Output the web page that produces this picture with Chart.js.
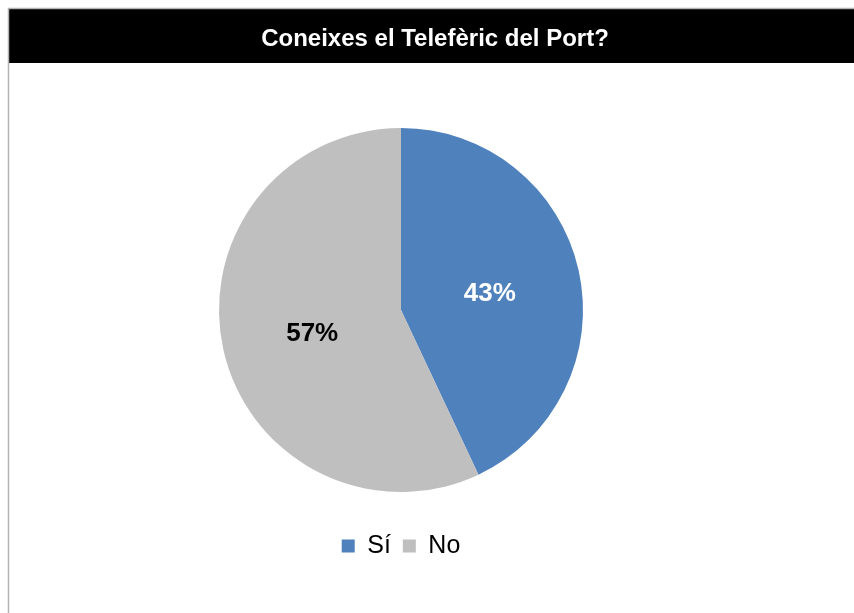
<!DOCTYPE html>
<html>
<head>
<meta charset="utf-8">
<script src="https://cdn.jsdelivr.net/npm/chart.js@4/dist/chart.umd.min.js"></script>
<style>
  html, body { margin: 0; padding: 0; background: #fff; overflow: hidden; }
  #wrap { width: 854px; height: 613px; position: relative; }
</style>
</head>
<body>
<div id="wrap"><canvas id="pie" width="854" height="613"></canvas></div>
<script>
// dades
const titol = 'Coneixes el Telefèric del Port?';
const categories = ['Sí', 'No'];
const valors = [43, 57];
const colors = ['#4F81BD', '#BFBFBF'];
const colorsEtiqueta = ['#FFFFFF', '#000000'];

// fons: marc gris + barra negra amb el títol
const capcalera = {
    id: 'capcalera',
    beforeDraw(chart) {
        const ctx = chart.ctx;
        ctx.save();
        ctx.fillStyle = '#fff';
        ctx.fillRect(0, 0, chart.width, chart.height);
        ctx.fillStyle = '#000';
        ctx.fillRect(9, 9, chart.width - 9, 54);
        ctx.strokeStyle = '#b3b3b3';
        ctx.lineWidth = 1.5;
        ctx.beginPath();
        ctx.moveTo(8.5, chart.height);
        ctx.lineTo(8.5, 8.5);
        ctx.lineTo(chart.width, 8.5);
        ctx.stroke();
        ctx.fillStyle = '#fff';
        ctx.font = 'bold 24px "Liberation Sans", Arial, sans-serif';
        ctx.textAlign = 'center';
        ctx.textBaseline = 'middle';
        ctx.fillText(titol, 435, 39);
        ctx.restore();
    }
};

// percentatges dins de cada porció
const etiquetes = {
    id: 'etiquetes',
    afterDatasetsDraw(chart) {
        const ctx = chart.ctx;
        const meta = chart.getDatasetMeta(0);
        ctx.save();
        ctx.font = 'bold 26px "Liberation Sans", Arial, sans-serif';
        ctx.textAlign = 'center';
        ctx.textBaseline = 'middle';
        meta.data.forEach((arc, i) => {
            const pos = arc.tooltipPosition();
            ctx.fillStyle = colorsEtiqueta[i];
            ctx.fillText(valors[i] + '%', pos.x, pos.y + 4);
        });
        ctx.restore();
    }
};

const pie = document.getElementById('pie').getContext('2d');
const myChart = new Chart(pie, {
    type: 'pie',
    data: {
        labels: categories,
        datasets: [{
            data: valors,
            backgroundColor: colors,
            borderWidth: 0
        }]
    },
    options: {
        responsive: false,
        animation: false,
        radius: 182,
        layout: {
            padding: { top: 98.5, left: 0, right: 52, bottom: 44.5 }
        },
        plugins: {
            tooltip: { enabled: false },
            legend: {
                position: 'bottom',
                labels: {
                    boxWidth: 13,
                    boxHeight: 13,
                    padding: 12,
                    color: '#000',
                    font: { size: 25, family: '"Liberation Sans", Arial, sans-serif' }
                }
            }
        }
    },
    plugins: [capcalera, etiquetes]
});
</script>
</body>
</html>
